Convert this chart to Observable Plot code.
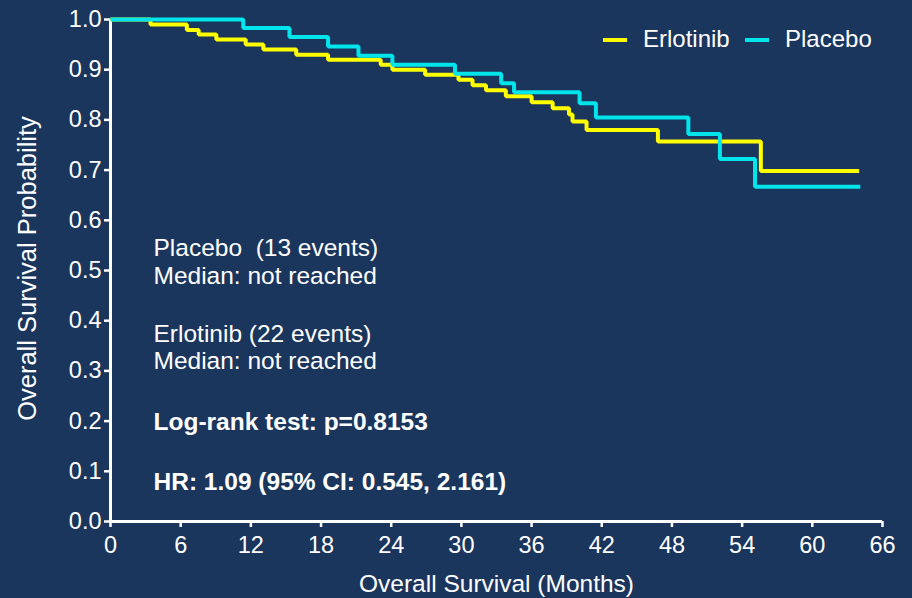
<!DOCTYPE html>
<html><head><meta charset="utf-8">
<script src="https://cdn.jsdelivr.net/npm/d3@7"></script>
<script src="https://cdn.jsdelivr.net/npm/@observablehq/plot@0.6"></script>
<style>
html,body{margin:0;padding:0;background:#1b365d;}
#wrap{position:relative;width:912px;height:598px;overflow:hidden;background:#1b365d;font-family:"Liberation Sans",Arial,sans-serif;}
.leg{position:absolute;color:#fff;font-size:24px;line-height:24px;white-space:nowrap;}
.sw{position:absolute;height:4px;width:24px;}
</style></head><body><div id="wrap"></div>
<script>
// ---- data ----
const erlotinibTime = [0, 3.42, 6.53, 7.54, 9.05, 11.56, 13.07, 15.88, 18.6, 23.1, 24.1, 26.9, 29.75, 30.95, 32.1, 33.8, 36.0, 37.8, 39.2, 39.5, 40.7, 46.8, 55.6, 64.0];
const erlotinibSurv = [1.0, 0.990, 0.979, 0.970, 0.960, 0.950, 0.940, 0.930, 0.920, 0.910, 0.900, 0.890, 0.880, 0.869, 0.859, 0.847, 0.835, 0.823, 0.811, 0.797, 0.780, 0.757, 0.698, 0.698];
const placeboTime = [0, 11.35, 15.3, 18.6, 21.2, 24.1, 29.45, 33.4, 34.5, 40.1, 41.5, 49.4, 52.1, 55.1, 64.1];
const placeboSurv = [1.0, 0.983, 0.965, 0.946, 0.928, 0.910, 0.892, 0.873, 0.855, 0.833, 0.805, 0.772, 0.722, 0.667, 0.667];
const seriesNames = ["Erlotinib", "Placebo"];
const seriesColors = ["#ffff00", "#00e4ec"];
const xTicks = [0, 6, 12, 18, 24, 30, 36, 42, 48, 54, 60, 66];
const yTicks = [0, 0.1, 0.2, 0.3, 0.4, 0.5, 0.6, 0.7, 0.8, 0.9, 1.0];
const xLabel = "Overall Survival (Months)";
const yLabel = "Overall Survival Probability";
const notes = [
  {text: "Placebo\u00a0 (13 events)", bold: false},
  {text: "Median: not reached", bold: false},
  {text: "Erlotinib (22 events)", bold: false},
  {text: "Median: not reached", bold: false},
  {text: "Log-rank test: p=0.8153", bold: true},
  {text: "HR: 1.09 (95% CI: 0.545, 2.161)", bold: true}
];
const noteDy = [229, 256.5, 315, 341.5, 402.5, 463];

const erl = erlotinibTime.map((t, i) => ({t, s: erlotinibSurv[i]}));
const pla = placeboTime.map((t, i) => ({t, s: placeboSurv[i]}));

const font = "Liberation Sans, Arial, sans-serif";
const noteMarks = notes.map((n, i) => Plot.text([n.text], {
  frameAnchor: "top-left", dx: 43, dy: noteDy[i], textAnchor: "start", lineAnchor: "middle",
  fill: "white", fontSize: 24.5, fontWeight: n.bold ? "bold" : "normal", fontFamily: font
}));

const chart = Plot.plot({
  width: 912, height: 598,
  marginLeft: 110, marginRight: 30, marginTop: 19, marginBottom: 77,
  style: {background: "#1b365d", color: "white", fontFamily: font, overflow: "visible"},
  x: {domain: [0, 66]},
  y: {domain: [0, 1]},
  marks: [
    Plot.axisX({ticks: xTicks, tickSize: 6, tickPadding: 9, stroke: "white", strokeWidth: 2.5, fill: "white", fontSize: 23.5, label: null, tickFormat: d => String(d)}),
    Plot.axisY({ticks: yTicks, tickSize: 6, tickPadding: 3, stroke: "white", strokeWidth: 2.5, fill: "white", fontSize: 23.5, label: null, tickFormat: d3.format(".1f")}),
    Plot.ruleY([0], {stroke: "white", strokeWidth: 3}),
    Plot.ruleX([0], {stroke: "white", strokeWidth: 3}),
    Plot.line(erl, {x: "t", y: "s", curve: "step-after", stroke: seriesColors[0], strokeWidth: 4, strokeLinecap: "butt", strokeLinejoin: "miter"}),
    Plot.line(pla, {x: "t", y: "s", curve: "step-after", stroke: seriesColors[1], strokeWidth: 4, strokeLinecap: "butt", strokeLinejoin: "miter"}),
    ...noteMarks,
    Plot.text([xLabel], {frameAnchor: "bottom", dy: 63, lineAnchor: "middle", fill: "white", fontSize: 24.5, fontFamily: font}),
    Plot.text([yLabel], {frameAnchor: "left", dx: -83, dy: -2, rotate: -90, lineAnchor: "middle", textAnchor: "middle", fill: "white", fontSize: 25.5, fontFamily: font})
  ]
});
const wrap = document.getElementById("wrap");
wrap.appendChild(chart);

// legend (inside plot area, top right)
const legPos = [{sw: 603, tx: 643}, {sw: 745, tx: 785}];
seriesNames.forEach((name, i) => {
  const sw = document.createElement("div");
  sw.className = "sw";
  sw.style.left = legPos[i].sw + "px"; sw.style.top = "38px"; sw.style.background = seriesColors[i];
  wrap.appendChild(sw);
  const tx = document.createElement("div");
  tx.className = "leg";
  tx.style.left = legPos[i].tx + "px"; tx.style.top = "27px";
  tx.textContent = name;
  wrap.appendChild(tx);
});
</script></body></html>
